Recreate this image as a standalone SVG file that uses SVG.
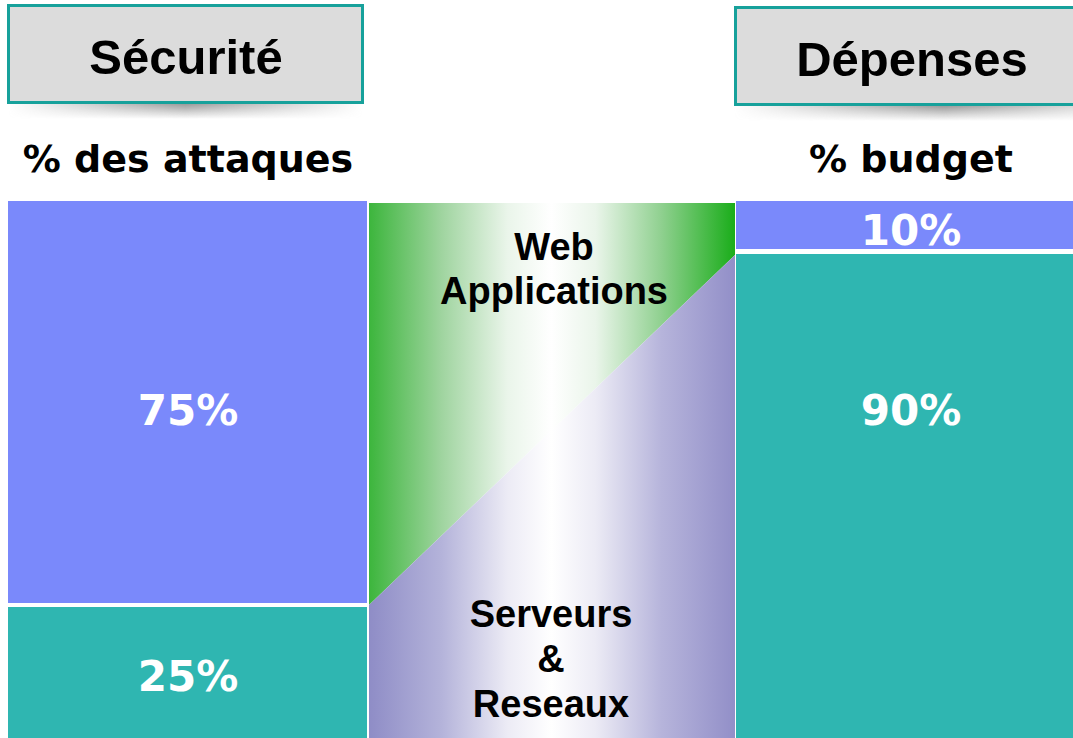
<svg xmlns="http://www.w3.org/2000/svg" width="1073" height="738" viewBox="0 0 1073 738">
  <style>
    .title{font-family:"Liberation Sans",Arial,sans-serif;font-weight:bold;font-size:49px;fill:#000;text-anchor:middle}
    .sub{font-family:"DejaVu Sans",Verdana,sans-serif;font-weight:bold;font-size:38px;fill:#000;text-anchor:middle}
    .pct{font-family:"DejaVu Sans",Verdana,sans-serif;font-weight:bold;font-size:42px;fill:#fff;text-anchor:middle}
    .mid{font-family:"Liberation Sans",Arial,sans-serif;font-weight:bold;font-size:38px;fill:#000;text-anchor:middle}
    .hbox{fill:#dcdcdc;stroke:#17a19b;stroke-width:3}
    .blue{fill:#7a89fb}
    .teal{fill:#2fb6b1}
  </style>
  <defs>
    <linearGradient id="gGreen" x1="368" y1="0" x2="735" y2="0" gradientUnits="userSpaceOnUse">
      <stop offset="0" stop-color="#3bb53b"/>
      <stop offset="0.2" stop-color="#9fd49f"/>
      <stop offset="0.38" stop-color="#eaf5ea"/>
      <stop offset="0.5" stop-color="#ffffff"/>
      <stop offset="0.62" stop-color="#eaf5ea"/>
      <stop offset="0.8" stop-color="#8fd08f"/>
      <stop offset="1" stop-color="#1aad1a"/>
    </linearGradient>
    <linearGradient id="gPurple" x1="368" y1="0" x2="735" y2="0" gradientUnits="userSpaceOnUse">
      <stop offset="0" stop-color="#8e8cc6"/>
      <stop offset="0.2" stop-color="#b4b3da"/>
      <stop offset="0.38" stop-color="#ecebf5"/>
      <stop offset="0.5" stop-color="#ffffff"/>
      <stop offset="0.62" stop-color="#ecebf5"/>
      <stop offset="0.8" stop-color="#b6b4db"/>
      <stop offset="1" stop-color="#928fc8"/>
    </linearGradient>
    <linearGradient id="gShadowV" x1="0" y1="0" x2="0" y2="1">
      <stop offset="0" stop-color="#888" stop-opacity="0.9"/>
      <stop offset="1" stop-color="#888" stop-opacity="0"/>
    </linearGradient>
    <linearGradient id="gShadowH" x1="0" y1="0" x2="1" y2="0">
      <stop offset="0" stop-color="#fff" stop-opacity="0"/>
      <stop offset="0.5" stop-color="#fff" stop-opacity="1"/>
      <stop offset="1" stop-color="#fff" stop-opacity="0"/>
    </linearGradient>
    <mask id="mShadowL" maskContentUnits="userSpaceOnUse">
      <rect x="8" y="103" width="355" height="16" fill="url(#gShadowH)"/>
    </mask>
    <mask id="mShadowR" maskContentUnits="userSpaceOnUse">
      <rect x="734" y="105" width="420" height="16" fill="url(#gShadowH)"/>
    </mask>
  </defs>

  <g id="header-securite">
    <rect x="8" y="103" width="355" height="16" fill="url(#gShadowV)" mask="url(#mShadowL)"/>
    <rect class="hbox" x="8.5" y="5.5" width="354" height="97"/>
    <text class="title" x="186" y="74">Sécurité</text>
  </g>

  <g id="header-depenses">
    <rect x="734" y="105" width="420" height="16" fill="url(#gShadowV)" mask="url(#mShadowR)"/>
    <rect class="hbox" x="735.5" y="7.5" width="345" height="97"/>
    <text class="title" x="912" y="76">Dépenses</text>
  </g>

  <g id="sub-attaques">
    <text class="sub" x="188" y="172">% des attaques</text>
  </g>
  <g id="sub-budget">
    <text class="sub" x="911" y="172">% budget</text>
  </g>

  <g id="bar-attaques-75">
    <rect class="blue" x="8" y="201" width="359" height="402"/>
    <text class="pct" x="188" y="425">75%</text>
  </g>
  <g id="bar-attaques-25">
    <rect class="teal" x="8" y="607" width="359" height="131"/>
    <text class="pct" x="188" y="691">25%</text>
  </g>

  <g id="web-applications">
    <polygon points="369,203 735,203 735,255 369,605" fill="url(#gGreen)"/>
    <text class="mid" x="554" y="260">Web</text>
    <text class="mid" x="554" y="304">Applications</text>
  </g>
  <g id="serveurs-reseaux">
    <polygon points="369,605 735,255 735,738 369,738" fill="url(#gPurple)"/>
    <text class="mid" x="551" y="627">Serveurs</text>
    <text class="mid" x="551" y="672">&amp;</text>
    <text class="mid" x="551" y="717">Reseaux</text>
  </g>

  <g id="bar-budget-10">
    <rect class="blue" x="736" y="201" width="337" height="48"/>
    <text class="pct" x="911" y="245">10%</text>
  </g>
  <g id="bar-budget-90">
    <rect class="teal" x="736" y="254" width="337" height="484"/>
    <text class="pct" x="911" y="425">90%</text>
  </g>

  <g id="connectors"/>
</svg>
